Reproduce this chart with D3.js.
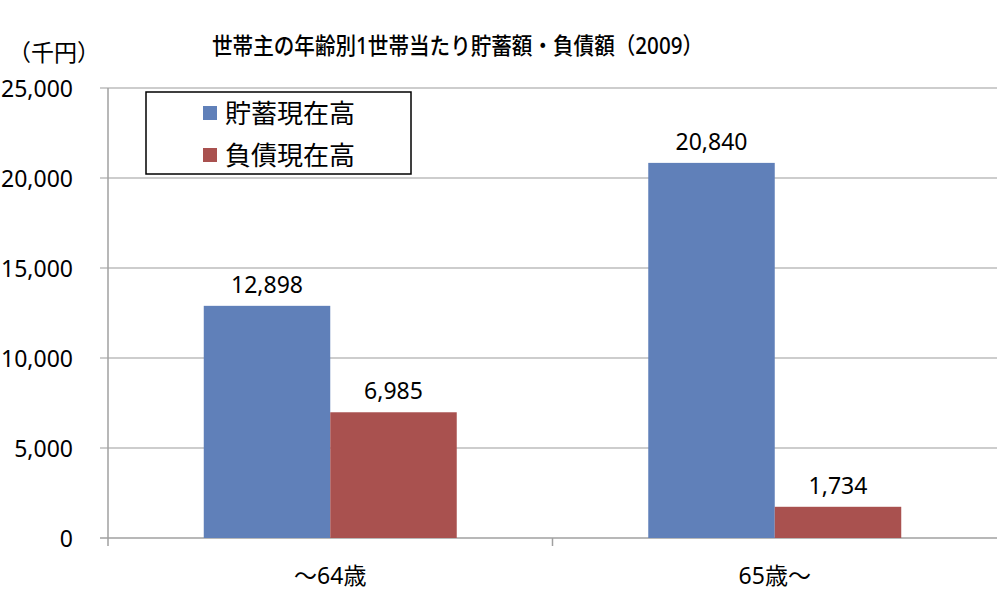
<!DOCTYPE html>
<html>
<head>
<meta charset="utf-8">
<script src="https://cdn.jsdelivr.net/npm/d3@7"></script>
<style>
	body { margin: 0; background: #fff; }
	svg text { font-family: "Noto Sans", "Noto Sans CJK JP", sans-serif; fill: #000; }
</style>
</head>
<body>
<div id="chart"></div>
<script>
// Data
var categories = ['～64歳', '65歳～'];
var seriesNames = ['貯蓄現在高', '負債現在高'];
var savings = [12898, 20840];
var debts = [6985, 1734];
var yTicks = [0, 5000, 10000, 15000, 20000, 25000];
var seriesColors = ['#6080B9', '#A9514F'];

var width = 997, height = 594;
var plotLeft = 108, plotRight = 997, plotTop = 88, plotBottom = 538;

var svg = d3.select('#chart').append('svg')
	.attr('width', width)
	.attr('height', height);

var y = d3.scaleLinear().domain([0, 25000]).range([plotBottom, plotTop]);

var x0 = d3.scaleBand().domain(categories).range([plotLeft, plotRight]).paddingInner(0).paddingOuter(0);
var x1 = d3.scaleBand().domain(seriesNames).range([0, x0.bandwidth()]).paddingInner(0).paddingOuter(0.757);

var fmt = d3.format(',');

// gridlines + y ticks
svg.append('g').selectAll('line').data(yTicks).enter().append('line')
	.attr('x1', plotLeft - 8)
	.attr('x2', plotRight)
	.attr('y1', function(d) {return y(d);})
	.attr('y2', function(d) {return y(d);})
	.style('stroke', function(d) {return d == 0 ? '#a0a0a0' : '#bcbcbc';})
	.style('stroke-width', 1.5);

svg.append('g').selectAll('text').data(yTicks).enter().append('text')
	.attr('x', 73)
	.attr('y', function(d) {return y(d);})
	.attr('text-anchor', 'end')
	.attr('dominant-baseline', 'central')
	.attr('font-size', '23px')
	.text(function(d) {return fmt(d);});

// y axis line
svg.append('line')
	.attr('x1', plotLeft).attr('x2', plotLeft)
	.attr('y1', plotTop).attr('y2', plotBottom + 8)
	.style('stroke', '#a0a0a0')
	.style('stroke-width', 1.5);

// category boundary ticks
svg.append('g').selectAll('line').data(categories.slice(1)).enter().append('line')
	.attr('x1', function(d) {return x0(d);})
	.attr('x2', function(d) {return x0(d);})
	.attr('y1', plotBottom)
	.attr('y2', plotBottom + 8)
	.style('stroke', '#a0a0a0')
	.style('stroke-width', 1.5);

// bars
var rows = categories.map(function(c, i) {
	return {cat: c, values: [{name: seriesNames[0], value: savings[i]}, {name: seriesNames[1], value: debts[i]}]};
});

var groups = svg.append('g').selectAll('g').data(rows).enter().append('g')
	.attr('transform', function(d) {return 'translate(' + x0(d.cat) + ',0)';});

groups.selectAll('rect').data(function(d) {return d.values;}).enter().append('rect')
	.attr('x', function(d) {return x1(d.name);})
	.attr('y', function(d) {return y(d.value);})
	.attr('width', x1.bandwidth())
	.attr('height', function(d) {return plotBottom - y(d.value);})
	.style('fill', function(d, i) {return seriesColors[i];});

groups.selectAll('text').data(function(d) {return d.values;}).enter().append('text')
	.attr('x', function(d) {return x1(d.name) + x1.bandwidth() / 2;})
	.attr('y', function(d) {return y(d.value) - 13;})
	.attr('text-anchor', 'middle')
	.attr('font-size', '23px')
	.text(function(d) {return fmt(d.value);});

// category labels
svg.append('g').selectAll('text').data(categories).enter().append('text')
	.attr('x', function(d) {return x0(d) + x0.bandwidth() / 2;})
	.attr('y', 575)
	.attr('text-anchor', 'middle')
	.attr('dominant-baseline', 'central')
	.attr('font-size', '23px')
	.text(function(d) {return d;});

// title and unit
svg.append('text')
	.attr('x', 212)
	.attr('y', 45)
	.attr('dominant-baseline', 'central')
	.attr('font-size', '23px')
	.attr('font-weight', 500)
	.attr('textLength', 491)
	.attr('lengthAdjust', 'spacingAndGlyphs')
	.text('世帯主の年齢別1世帯当たり貯蓄額・負債額（2009）');

svg.append('text')
	.attr('x', 8)
	.attr('y', 52)
	.attr('dominant-baseline', 'central')
	.attr('font-size', '23px')
	.text('（千円）');

// legend
var legend = svg.append('g');
legend.append('rect')
	.attr('x', 146).attr('y', 92)
	.attr('width', 265).attr('height', 82)
	.style('fill', '#fff')
	.style('stroke', '#000')
	.style('stroke-width', 1.5);

var items = legend.selectAll('g').data(seriesNames).enter().append('g')
	.attr('transform', function(d, i) {return 'translate(203,' + (113 + i * 42) + ')';});

items.append('rect')
	.attr('x', 0).attr('y', -7)
	.attr('width', 14).attr('height', 14)
	.style('fill', function(d, i) {return seriesColors[i];});

items.append('text')
	.attr('x', 22)
	.attr('y', 0)
	.attr('dominant-baseline', 'central')
	.attr('font-size', '26px')
	.text(function(d) {return d;});
</script>
</body>
</html>
